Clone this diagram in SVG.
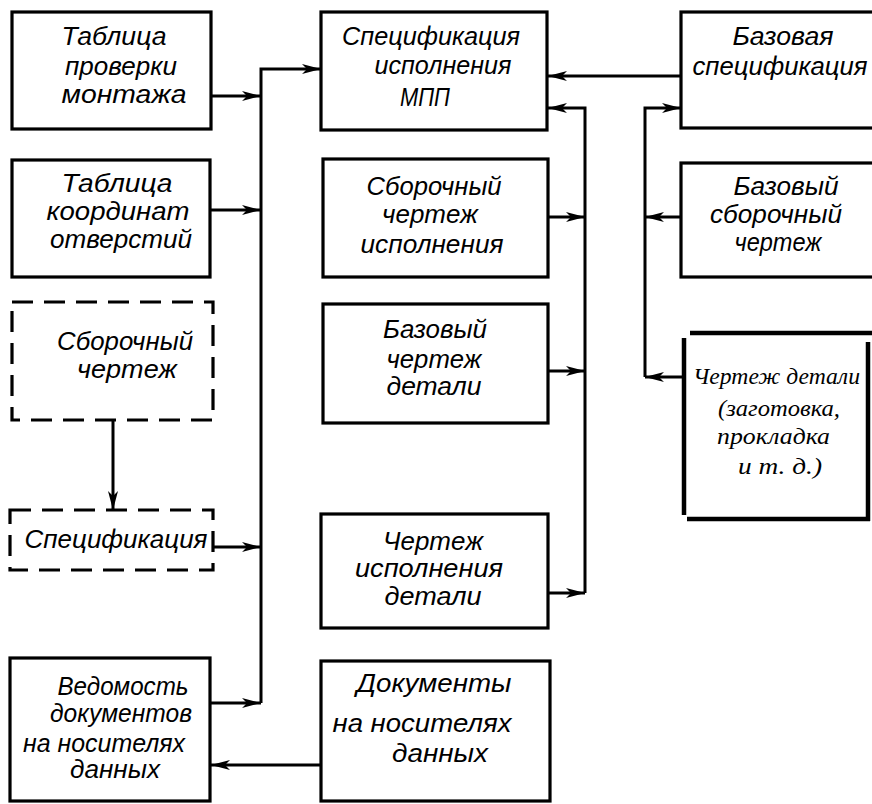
<svg xmlns="http://www.w3.org/2000/svg" width="872" height="804" viewBox="0 0 872 804">
<style>
.box{fill:#fff;stroke:#000;stroke-width:3.2}
.dash{fill:#fff;stroke:#000;stroke-width:3.2;stroke-dasharray:21 11}
.thick{stroke:#000;stroke-width:4.5;fill:none}
.t{font-family:"Liberation Sans","DejaVu Sans",sans-serif;font-style:italic;font-size:25px;fill:#000;text-anchor:middle}
.s{font-family:"Liberation Serif","DejaVu Serif",serif;font-style:italic;font-size:23px;fill:#000}
.c{stroke:#000;stroke-width:3;fill:none}
</style>
<defs>
<marker id="ah" markerUnits="userSpaceOnUse" markerWidth="22" markerHeight="12" refX="20" refY="6" orient="auto">
<path d="M20,6 L1,1 L6,6 L1,11 Z" fill="#000"/>
</marker>
</defs>
<rect width="872" height="804" fill="#fff"/>

<g id="n-tab-prov">
<rect class="box" x="12" y="12" width="199" height="117"/>
<text class="t" x="114" y="45" textLength="105" lengthAdjust="spacingAndGlyphs">Таблица</text>
<text class="t" x="121" y="75" textLength="112" lengthAdjust="spacingAndGlyphs">проверки</text>
<text class="t" x="124" y="103" textLength="125" lengthAdjust="spacingAndGlyphs">монтажа</text>
</g>
<g id="n-tab-koord">
<rect class="box" x="12" y="160" width="198" height="117"/>
<text class="t" x="117" y="192" textLength="111" lengthAdjust="spacingAndGlyphs">Таблица</text>
<text class="t" x="118" y="220" textLength="143" lengthAdjust="spacingAndGlyphs">координат</text>
<text class="t" x="121" y="248" textLength="142" lengthAdjust="spacingAndGlyphs">отверстий</text>
</g>
<g id="n-sb-chert">
<rect class="dash" x="12" y="302" width="201" height="118"/>
<text class="t" x="125" y="350" textLength="136" lengthAdjust="spacingAndGlyphs">Сборочный</text>
<text class="t" x="127" y="378" textLength="100" lengthAdjust="spacingAndGlyphs">чертеж</text>
</g>
<g id="n-spec">
<rect class="dash" x="10" y="510" width="203" height="60"/>
<text class="t" x="116" y="548" textLength="183" lengthAdjust="spacingAndGlyphs">Спецификация</text>
</g>
<g id="n-vedom">
<rect class="box" x="10" y="658" width="200" height="143"/>
<text class="t" x="123" y="695" textLength="131" lengthAdjust="spacingAndGlyphs">Ведомость</text>
<text class="t" x="121" y="722" textLength="142" lengthAdjust="spacingAndGlyphs">документов</text>
<text class="t" x="104" y="752" textLength="162" lengthAdjust="spacingAndGlyphs">на носителях</text>
<text class="t" x="115" y="778" textLength="90" lengthAdjust="spacingAndGlyphs">данных</text>
</g>

<g id="n-spec-mpp">
<rect class="box" x="321" y="12" width="226" height="118"/>
<text class="t" x="431" y="45" textLength="178" lengthAdjust="spacingAndGlyphs">Спецификация</text>
<text class="t" x="443" y="74" textLength="137" lengthAdjust="spacingAndGlyphs">исполнения</text>
<text class="t" x="425" y="106" textLength="50" lengthAdjust="spacingAndGlyphs">МПП</text>
</g>
<g id="n-sb-isp">
<rect class="box" x="323" y="159" width="225" height="118"/>
<text class="t" x="434" y="195" textLength="135" lengthAdjust="spacingAndGlyphs">Сборочный</text>
<text class="t" x="430" y="223" textLength="96" lengthAdjust="spacingAndGlyphs">чертеж</text>
<text class="t" x="432" y="253" textLength="143" lengthAdjust="spacingAndGlyphs">исполнения</text>
</g>
<g id="n-baz-det">
<rect class="box" x="323" y="304" width="225" height="119"/>
<text class="t" x="435" y="338" textLength="104" lengthAdjust="spacingAndGlyphs">Базовый</text>
<text class="t" x="434" y="368" textLength="95" lengthAdjust="spacingAndGlyphs">чертеж</text>
<text class="t" x="434" y="395" textLength="95" lengthAdjust="spacingAndGlyphs">детали</text>
</g>
<g id="n-isp-det">
<rect class="box" x="321" y="514" width="227" height="114"/>
<text class="t" x="433" y="550" textLength="100" lengthAdjust="spacingAndGlyphs">Чертеж</text>
<text class="t" x="429" y="577" textLength="148" lengthAdjust="spacingAndGlyphs">исполнения</text>
<text class="t" x="433" y="605" textLength="97" lengthAdjust="spacingAndGlyphs">детали</text>
</g>
<g id="n-docs">
<rect class="box" x="321" y="661" width="229" height="140"/>
<text class="t" x="434" y="692" textLength="155" lengthAdjust="spacingAndGlyphs">Документы</text>
<text class="t" x="422" y="732" textLength="179" lengthAdjust="spacingAndGlyphs">на носителях</text>
<text class="t" x="440" y="762" textLength="96" lengthAdjust="spacingAndGlyphs">данных</text>
</g>

<g id="n-baz-spec">
<rect class="box" x="681" y="12" width="200" height="116"/>
<text class="t" x="783" y="45" textLength="101" lengthAdjust="spacingAndGlyphs">Базовая</text>
<text class="t" x="780" y="75" textLength="175" lengthAdjust="spacingAndGlyphs">спецификация</text>
</g>
<g id="n-baz-sb">
<rect class="box" x="681" y="163" width="200" height="114"/>
<text class="t" x="786" y="195" textLength="105" lengthAdjust="spacingAndGlyphs">Базовый</text>
<text class="t" x="776" y="223" textLength="132" lengthAdjust="spacingAndGlyphs">сборочный</text>
<text class="t" x="778" y="251" textLength="87" lengthAdjust="spacingAndGlyphs">чертеж</text>
</g>
<g id="n-chert-det">
<line class="thick" x1="690" y1="333" x2="872" y2="333"/>
<line class="thick" x1="684" y1="338" x2="684" y2="515"/>
<line class="thick" x1="687" y1="519" x2="870" y2="519"/>
<line class="thick" x1="868" y1="342" x2="868" y2="521"/>
<text class="s" x="693" y="384" textLength="167" lengthAdjust="spacingAndGlyphs">Чертеж  детали</text>
<text class="s" x="718" y="416" textLength="122" lengthAdjust="spacingAndGlyphs">(заготовка,</text>
<text class="s" x="717" y="444" textLength="113" lengthAdjust="spacingAndGlyphs">прокладка</text>
<text class="s" x="738" y="474" textLength="84" lengthAdjust="spacingAndGlyphs">и  т.  д.)</text>
</g>

<g id="connectors">
<path class="c" d="M261,703 V69 H321" marker-end="url(#ah)"/>
<path class="c" d="M211,96 H261" marker-end="url(#ah)"/>
<path class="c" d="M210,210 H261" marker-end="url(#ah)"/>
<path class="c" d="M213,547 H261" marker-end="url(#ah)"/>
<path class="c" d="M210,703 H261" marker-end="url(#ah)"/>
<path class="c" d="M113,420 V510" marker-end="url(#ah)"/>
<path class="c" d="M321,765 H211" marker-end="url(#ah)"/>
<path class="c" d="M681,76 H548" marker-end="url(#ah)"/>
<path class="c" d="M585,593 V108 H548" marker-end="url(#ah)"/>
<path class="c" d="M548,217 H585" marker-end="url(#ah)"/>
<path class="c" d="M548,371 H585" marker-end="url(#ah)"/>
<path class="c" d="M548,593 H585" marker-end="url(#ah)"/>
<path class="c" d="M645,377 V108 H681" marker-end="url(#ah)"/>
<path class="c" d="M681,217 H645" marker-end="url(#ah)"/>
<path class="c" d="M682,377 H645" marker-end="url(#ah)"/>
</g>
</svg>
